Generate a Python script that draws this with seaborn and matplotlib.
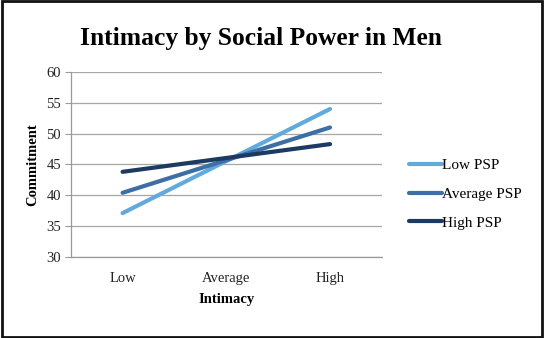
import pandas as pd
import matplotlib
matplotlib.use("Agg")
import matplotlib.pyplot as plt
from matplotlib.patches import Rectangle
import seaborn as sns

# data
intimacy = ["Low", "Average", "High"]
low_psp = [37.1, 45.55, 54.0]
avg_psp = [40.4, 45.7, 51.0]
high_psp = [43.8, 46.05, 48.3]
groups = ["Low PSP", "Average PSP", "High PSP"]
colors = ["#62a9dc", "#3e6ea6", "#1d3a62"]

rows = []
for name, vals in zip(groups, [low_psp, avg_psp, high_psp]):
    for i, (cat, v) in enumerate(zip(intimacy, vals)):
        rows.append({"pos": i, "Intimacy": cat, "Commitment": v, "group": name})
df = pd.DataFrame(rows)

sns.set_style("white")
plt.rcParams["font.family"] = ["Liberation Serif", "DejaVu Serif"]
plt.rcParams["text.color"] = "black"
plt.rcParams["axes.labelcolor"] = "black"

fig = plt.figure(figsize=(5.44, 3.38), dpi=100)
ax = fig.add_axes([0.130, 0.240, 0.572, 0.547])

sns.lineplot(data=df, x="pos", y="Commitment", hue="group", hue_order=groups,
             palette=colors, linewidth=3.0, ax=ax, sort=False,
             solid_capstyle="round")

ax.set_ylim(30, 60)
ax.set_yticks(range(30, 61, 5))
ax.set_xlim(-0.5, 2.5)
ax.set_xticks(range(len(intimacy)))
ax.set_xticklabels(intimacy)
ax.set_xticks([-0.5, 0.5, 1.5, 2.5], minor=True)
ax.tick_params(axis="x", which="major", length=0, labelsize=10.5, pad=11, labelcolor="#222222")
ax.tick_params(axis="x", which="minor", length=4, color="#999999", direction="out")
ax.tick_params(axis="y", length=4, color="#999999", direction="out", labelsize=10.5, left=True,
               pad=3, labelcolor="#222222")
ax.yaxis.grid(True, color="#a6a6a6", linewidth=0.9)
ax.set_axisbelow(True)
for s in ["top", "right"]:
    ax.spines[s].set_visible(False)
for s in ["left", "bottom"]:
    ax.spines[s].set_color("#999999")
    ax.spines[s].set_linewidth(0.9)

ax.set_xlabel("Intimacy", fontsize=10.5, fontweight="bold", labelpad=6)
ax.set_ylabel("Commitment", fontsize=10.5, fontweight="bold", labelpad=5)

fig.text(0.479, 0.885, "Intimacy by Social Power in Men", ha="center", va="center",
         fontsize=18.4, fontweight="bold", color="black")

ax.legend(loc="center left", bbox_to_anchor=(0.751, 0.426), bbox_transform=fig.transFigure,
          frameon=False, handlelength=2.2, handletextpad=0.0, labelspacing=1.0,
          fontsize=11, borderaxespad=0, borderpad=0)
for line in ax.get_legend().get_lines():
    line.set_linewidth(3.0)
    line.set_solid_capstyle("round")
for t in ax.get_legend().get_texts():
    t.set_color("black")

fig.patches.append(Rectangle((0.003, 0.004), 0.994, 0.992, transform=fig.transFigure,
                             fill=False, edgecolor="#111111", linewidth=2.0))

fig.savefig("out.png", dpi=100)
